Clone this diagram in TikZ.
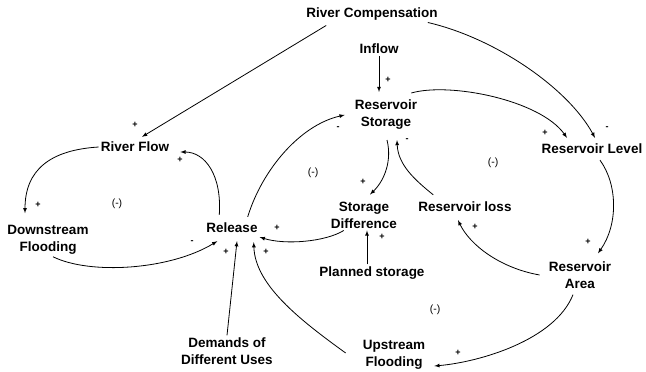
\documentclass[tikz,border=0pt]{standalone}
\usepackage{fontspec}
\setmainfont{Liberation Sans}
\usetikzlibrary{arrows}

\tikzset{
  var/.style={font=\bfseries\fontsize{13.5}{17}\selectfont, align=center, inner sep=2pt},
  link/.style={->, >=latex, line width=0.8pt},
  sign/.style={font=\bfseries\fontsize{9}{9}\selectfont, inner sep=0pt},
  loopsign/.style={font=\fontsize{10.5}{10.5}\selectfont, inner sep=0pt}
}

\begin{document}
\begin{tikzpicture}[x=1pt,y=-1pt]
    \useasboundingbox (0,0) rectangle (646,372);

    % Variables
    \node[var] (rc)     at (372,14)  {River Compensation};
    \node[var] (inflow) at (379,49)  {Inflow};
    \node[var] (rs)     at (386,115) {Reservoir\\Storage};
    \node[var] (rl)     at (592,149) {Reservoir Level};
    \node[var] (rf)     at (135,147) {River Flow};
    \node[var] (df)     at (48,240)  {Downstream\\Flooding};
    \node[var] (rel)    at (232,228) {Release};
    \node[var] (sd)     at (364,215) {Storage\\Difference};
    \node[var] (rlo)    at (465,207) {Reservoir loss};
    \node[var] (ps)     at (372,273) {Planned storage};
    \node[var] (ra)     at (580,275) {Reservoir\\Area};
    \node[var] (uf)     at (394,355) {Upstream\\Flooding};
    \node[var] (dem)    at (227,351) {Demands of\\Different Uses};

    % Links
    \draw[link] ([xshift=22pt,yshift=-3pt]rc.south west) -- ([xshift=7pt,yshift=3pt]rf.north);
    \draw[link] ([xshift=-12pt]rc.south east) ..
          controls (495,38) and (568,88) ..
          ([xshift=3pt,yshift=4pt]rl.north);
    \draw[link, shorten >=6pt] (inflow.south) -- (inflow.south |- rs.north);
    \draw[link] ([xshift=-8pt,yshift=5pt]rs.north east) ..
          controls (450,82) and (540,100) ..
          ([xshift=-25pt,yshift=4pt]rl.north);
    \draw[link] ([xshift=8pt,yshift=-4pt]rl.south) ..
          controls (618,185) and (618,225) ..
          ([xshift=18pt,yshift=6pt]ra.north);
    \draw[link] ([xshift=-7pt]ra.west) ..
          controls (500,268) and (470,245) ..
          ([xshift=-7pt,yshift=-6pt]rlo.south);
    \draw[link] ([xshift=-7pt,yshift=-4pt]ra.south) ..
          controls (555,340) and (480,362) ..
          ([xshift=7pt,yshift=-11pt]uf.east);
    \draw[link] ([xshift=17pt,yshift=5pt]rlo.north west) ..
          controls (415,180) and (398,165) ..
          ([xshift=11pt,yshift=-8pt]rs.south);
    \draw[link] ([xshift=1pt,yshift=-8pt]rs.south) ..
          controls (392,160) and (385,180) ..
          ([xshift=6pt,yshift=5pt]sd.north);
    \draw[link] ([xshift=-5pt]ps.north) -- ([xshift=-5pt]ps.north |- sd.south);
    \draw[link] ([xshift=15pt]sd.south west) ..
          controls (325,242) and (285,245) ..
          ([yshift=-2pt]rel.south east);
    \draw[link] ([xshift=-12pt,yshift=4pt]rel.north east) ..
          controls (262,170) and (300,125) ..
          ([xshift=-8pt]rs.west);
    \draw[link] ([xshift=15pt,yshift=6pt]rel.north west) ..
          controls (222,175) and (205,152) ..
          ([xshift=9pt,yshift=-5pt]rf.east);
    \draw[link] (rf.west) ..
          controls (50,150) and (25,170) ..
          ([xshift=-23pt,yshift=10pt]df.north);
    \draw[link] ([xshift=5pt]df.south) ..
          controls (90,275) and (170,270) ..
          ([xshift=13pt,yshift=-6pt]rel.south west);
    \draw[link] (dem.north) -- ([xshift=5pt,yshift=-6pt]rel.south);
    \draw[link] ([xshift=-15pt,yshift=2pt]uf.west) ..
          controls (300,320) and (255,285) ..
          ([xshift=-6pt,yshift=-7pt]rel.south east);

    % Polarities
    \foreach \n/\x/\y/\s in {a/135/125/+, b/607/128/-, c/388/80/+, d/545/133/+,
                             e/588/242/+, f/475/227/+, g/458/353/+, h/407/140/-,
                             i/363/182/+, j/382/237/+, k/277/228/+, l/338/128/-,
                             m/180/160/+, n/38/205/+, o/192/242/-, p/226/252/+,
                             q/266/252/+}
        \node[sign] (p\n) at (\x,\y) {\s};

    % Loop signs
    \foreach \n/\x/\y in {1/117/204, 2/313/173, 3/493/163, 4/435/310}
        \node[loopsign] (loop\n) at (\x,\y) {(-)};
\end{tikzpicture}
\end{document}
